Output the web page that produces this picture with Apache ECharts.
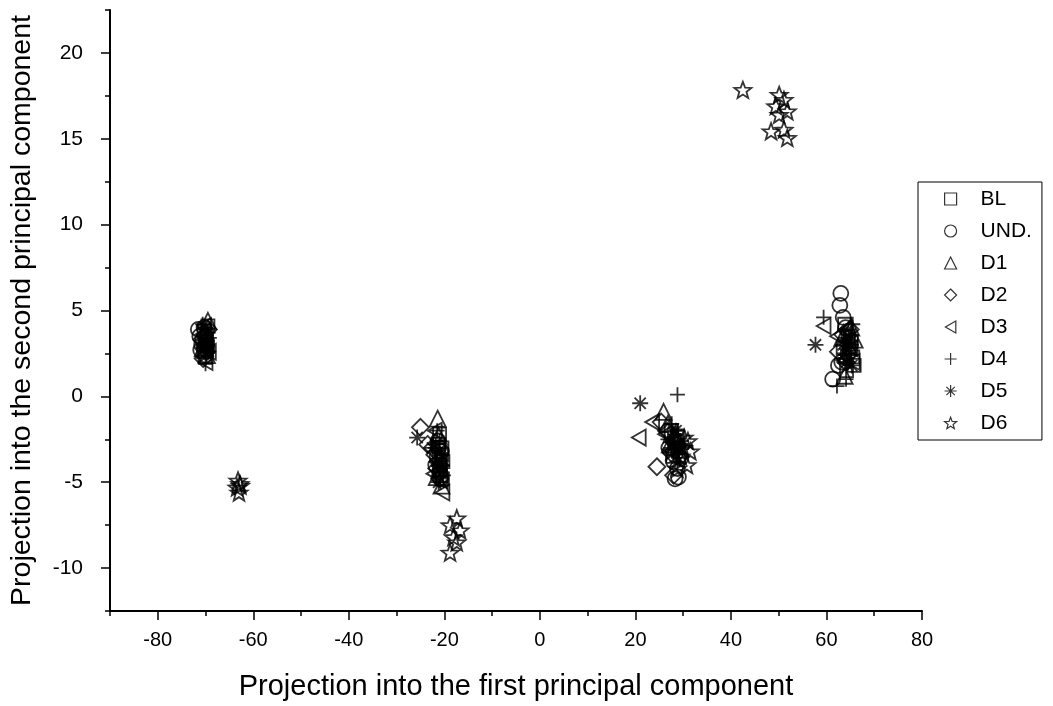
<!DOCTYPE html>
<html>
<head>
<meta charset="utf-8">
<script src="https://cdn.jsdelivr.net/npm/echarts@6/dist/echarts.min.js"></script>
<style>
html,body{margin:0;padding:0;background:#fff;}
#chart{width:1053px;height:706px;}
</style>
</head>
<body>
<div id="chart"></div>
<script>
// ---- data ----
const seriesNames = ['BL', 'UND.', 'D1', 'D2', 'D3', 'D4', 'D5', 'D6'];

const blData = [
  [-70.3, 3.8], [-70.0, 3.2], [-69.6, 2.9], [-70.4, 2.6], [-69.8, 3.5], [-69.5, 4.1], [-70.1, 2.3], [-69.7, 3.0],
  [-21.0, -2.2], [-20.5, -3.0], [-20.3, -3.8], [-20.8, -4.3], [-21.2, -2.8], [-20.4, -4.8], [-20.6, -3.4], [-21.0, -4.0],
  [27.5, -2.0], [28.5, -2.6], [29.0, -3.2], [27.8, -3.5], [28.8, -2.3], [28.3, -3.0],
  [63.8, 4.2], [64.5, 3.5], [65.5, 2.3], [65.8, 1.8], [63.5, 2.8], [64.2, 1.5], [64.8, 2.9], [65.2, 3.2]
];
const undData = [
  [-71.5, 3.9], [-71.2, 3.5], [-70.8, 3.0], [-70.3, 4.0], [-71.0, 2.7], [-70.6, 3.3], [-70.0, 2.4],
  [-21.5, -3.5], [-21.8, -4.0], [-21.0, -4.4], [-20.6, -3.2], [-21.3, -2.6], [-21.2, -3.0], [-20.8, -4.8],
  [28.3, -4.8], [29.0, -4.7], [28.0, -3.8], [27.0, -3.0], [29.5, -3.6], [28.8, -4.2],
  [63.0, 6.0], [62.8, 5.3], [63.5, 4.6], [61.3, 1.0], [62.5, 1.8], [64.5, 2.5], [63.2, 2.0], [64.0, 4.0]
];
const d1Data = [
  [-69.5, 4.4], [-70.0, 3.7], [-69.7, 2.4], [-70.6, 2.8], [-70.2, 3.3],
  [-21.4, -1.3], [-21.2, -2.3], [-20.8, -3.6], [-21.6, -4.7], [-20.6, -5.2], [-21.0, -4.2],
  [25.9, -0.9], [26.8, -1.6], [28.3, -2.2], [27.2, -2.8],
  [63.3, 3.4], [64.7, 2.9], [65.9, 3.3], [63.8, 1.2], [65.2, 4.0], [64.2, 2.4]
];
const d2Data = [
  [-70.8, 3.3], [-70.5, 2.2], [-69.4, 3.9], [-70.1, 3.0], [-69.8, 2.6],
  [-25.0, -1.8], [-23.5, -2.8], [-22.0, -3.4], [-21.6, -4.2], [-21.0, -4.8], [-22.5, -3.0], [-21.3, -3.8],
  [24.5, -4.1], [28.0, -4.6], [26.5, -2.0], [25.4, -1.5], [27.5, -3.3],
  [63.4, 3.6], [64.0, 2.0], [62.5, 2.6], [65.0, 3.9]
];
const d3Data = [
  [-70.3, 4.1], [-69.9, 3.1], [-69.3, 2.6], [-70.7, 3.6], [-70.0, 2.0],
  [-22.0, -2.0], [-21.0, -3.9], [-20.4, -5.6], [-22.3, -4.5], [-21.4, -3.0], [-20.8, -4.9],
  [20.7, -2.4], [23.5, -1.5], [26.2, -2.2], [27.8, -2.7],
  [59.4, 4.1], [62.2, 3.5], [63.6, 2.1], [65.0, 2.8], [64.0, 3.9], [64.5, 3.3], [65.5, 2.0]
];
const d4Data = [
  [-70.0, 1.9], [-69.8, 2.4], [-69.2, 3.4], [-70.6, 4.2], [-70.2, 3.0], [-69.6, 2.9],
  [-21.5, -2.0], [-21.0, -2.6], [-20.5, -3.4], [-21.3, -4.0], [-20.2, -4.6], [-21.8, -3.0], [-20.8, -5.0],
  [28.8, 0.1], [27.6, -1.6], [28.9, -2.0], [26.8, -2.5], [29.6, -3.0], [28.2, -2.8],
  [59.4, 4.6], [62.2, 0.6], [64.1, 1.0], [65.2, 3.0], [63.6, 2.2], [64.8, 2.4], [65.5, 4.2]
];
const d5Data = [
  [-69.9, 3.3], [-69.6, 3.7], [-70.3, 2.8], [-69.4, 2.6], [-70.1, 4.0], [-69.7, 3.0],
  [-25.7, -2.4], [-22.5, -3.0], [-21.5, -3.8], [-20.8, -4.5], [-21.2, -5.0], [-21.0, -3.3], [-20.5, -4.0], [-21.8, -2.8],
  [21.0, -0.4], [28.5, -2.0], [27.5, -3.0], [28.8, -3.8], [29.5, -2.6], [29.0, -3.2], [28.0, -2.5],
  [57.7, 3.0], [64.0, 3.4], [64.8, 2.8], [65.3, 1.8], [63.8, 2.5], [64.6, 3.9], [64.2, 2.0], [65.0, 3.2], [63.5, 3.0]
];
const d6Data = [
  [-63.2, -4.9], [-62.8, -5.1], [-63.4, -5.3], [-63.0, -5.6], [-62.7, -5.2],
  [-17.4, -7.1], [-18.8, -7.5], [-16.7, -7.8], [-18.1, -8.2], [-17.4, -8.5], [-18.8, -9.1],
  [27.0, -2.2], [28.5, -2.6], [30.2, -2.4], [31.5, -3.2], [29.5, -3.5], [27.5, -3.2], [30.8, -4.0], [28.8, -4.2],
  [29.0, -2.9], [30.0, -3.0], [31.0, -2.6],
  [42.5, 17.85], [50.1, 17.56], [51.1, 17.27], [49.4, 16.9], [51.8, 16.6], [50.1, 16.4], [48.4, 15.44], [51.1, 15.53], [51.8, 15.05]
];

const xMajorTicks = [-80, -60, -40, -20, 0, 20, 40, 60, 80];
const xMinorTicks = [-90, -70, -50, -30, -10, 10, 30, 50, 70];
const yMajorTicks = [-10, -5, 0, 5, 10, 15, 20];
const yMinorTicks = [-12.5, -7.5, -2.5, 2.5, 7.5, 12.5, 17.5, 22.5];

const xTitle = 'Projection into the first principal component';
const yTitle = 'Projection into the second principal component';

// ---- symbols ----
const LTRI = 'path://M8.66,0L8.66,10L0,5Z';
const PLUS = 'path://M0,5L10,5M5,0L5,10';
const ASTER = 'path://M0,5L10,5M5,0L5,10M1.5,1.5L8.5,8.5M1.5,8.5L8.5,1.5';
const STAR = 'path://M5,0L6.234,3.301L9.755,3.455L6.997,5.649L7.939,9.045L5,7.1L2.061,9.045L3.003,5.649L0.245,3.455L3.766,3.301Z';

const allData = [blData, undData, d1Data, d2Data, d3Data, d4Data, d5Data, d6Data];
const symbols = ['rect', 'circle', 'triangle', 'diamond', LTRI, PLUS, ASTER, STAR];
const sizes = [13, 15, 16, 17, 16, 15, 16, 17];

const FONT = '"Liberation Sans", Arial, sans-serif';

const series = seriesNames.map((n, i) => ({
  name: n,
  type: 'scatter',
  xAxisIndex: 0,
  yAxisIndex: 0,
  data: allData[i],
  symbol: symbols[i],
  symbolSize: sizes[i],
  symbolKeepAspect: true,
  itemStyle: { color: 'rgba(255,255,255,0)', borderColor: '#000', borderWidth: 1.8 },
  emphasis: { disabled: true },
  animation: false
}));

const chart = echarts.init(document.getElementById('chart'), null, { renderer: 'canvas' });

chart.setOption({
  animation: false,
  backgroundColor: '#fff',
  grid: { left: 107, right: 131, top: 10, bottom: 92, containLabel: false },
  xAxis: [
    {
      type: 'value', min: -90, max: 80, position: 'bottom',
      axisLine: { show: true, onZero: false, lineStyle: { color: '#000', width: 2 } },
      axisTick: { show: true, inside: false, length: 9, customValues: xMajorTicks, lineStyle: { color: '#000', width: 1.5 } },
      axisLabel: { show: true, customValues: xMajorTicks, margin: 19, color: '#000', fontSize: 20, fontFamily: FONT },
      splitLine: { show: false },
      name: xTitle, nameLocation: 'middle', nameGap: 61,
      nameTextStyle: { color: '#000', fontSize: 29, fontFamily: FONT }
    },
    {
      type: 'value', min: -90, max: 80, position: 'bottom',
      axisLine: { show: false, onZero: false },
      axisTick: { show: true, inside: false, length: 5, customValues: xMinorTicks, lineStyle: { color: '#000', width: 1.5 } },
      axisLabel: { show: false },
      splitLine: { show: false }
    }
  ],
  yAxis: [
    {
      type: 'value', min: -12.5, max: 22.5, position: 'left',
      axisLine: { show: true, onZero: false, lineStyle: { color: '#000', width: 2 } },
      axisTick: { show: true, inside: false, length: 9, customValues: yMajorTicks, lineStyle: { color: '#000', width: 1.5 } },
      axisLabel: { show: true, customValues: yMajorTicks, margin: 27, color: '#000', fontSize: 21, fontFamily: FONT },
      splitLine: { show: false },
      name: yTitle, nameLocation: 'middle', nameGap: 73, nameRotate: 90,
      nameTextStyle: { color: '#000', fontSize: 28.5, fontFamily: FONT }
    },
    {
      type: 'value', min: -12.5, max: 22.5, position: 'left',
      axisLine: { show: false, onZero: false },
      axisTick: { show: true, inside: false, length: 5, customValues: yMinorTicks, lineStyle: { color: '#000', width: 1.5 } },
      axisLabel: { show: false },
      splitLine: { show: false }
    }
  ],
  legend: {
    show: true,
    orient: 'vertical',
    left: 918, top: 182,
    backgroundColor: '#fff',
    borderColor: '#000', borderWidth: 1,
    padding: [6, 10, 6, 26],
    itemGap: 10,
    itemWidth: 12, itemHeight: 12,
    itemStyle: { color: 'rgba(255,255,255,0)', borderColor: '#000', borderWidth: 1.2 },
    textStyle: { color: '#000', fontSize: 21, fontFamily: FONT, padding: [0, 0, 0, 19], lineHeight: 22 },
    selectedMode: false,
    data: seriesNames
  },
  tooltip: { show: false },
  series: series
});
</script>
</body>
</html>
